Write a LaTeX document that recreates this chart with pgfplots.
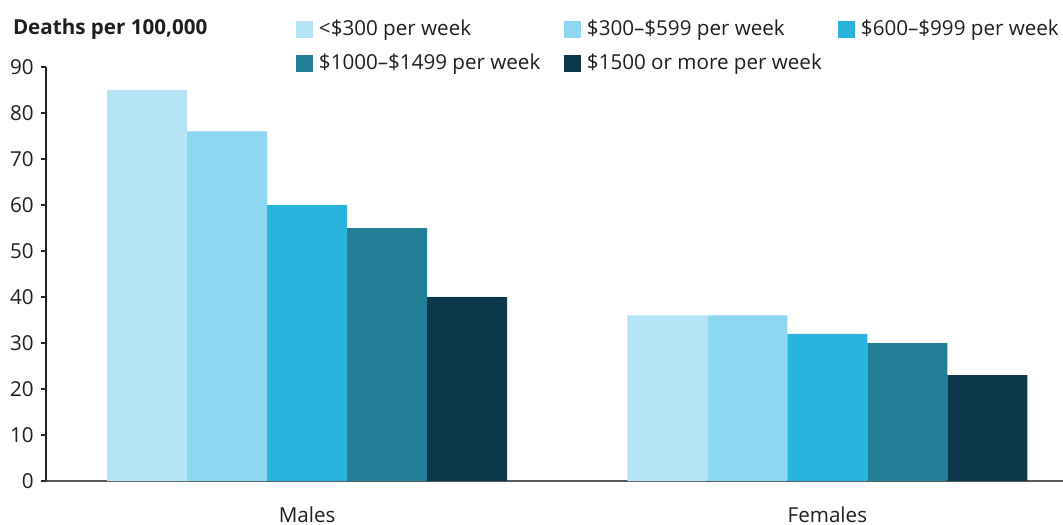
\documentclass[border=0pt]{standalone}
\usepackage{fontspec}
\setmainfont{Open Sans}
\usepackage{pgfplots}
\pgfplotsset{compat=1.18}

\definecolor{cA}{HTML}{B3E3F4}
\definecolor{cB}{HTML}{8DD7F0}
\definecolor{cC}{HTML}{28B4DC}
\definecolor{cD}{HTML}{237F98}
\definecolor{cE}{HTML}{0B384A}
\definecolor{txt}{HTML}{1E1E1E}

\pgfplotsset{
  sq/.style={legend image code/.code={\fill[##1] (0pt,-4.25pt) rectangle (8.5pt,4.25pt);}},
}

\begin{document}
\fontsize{10.3}{12.4}\selectfont
\begin{tikzpicture}
\useasboundingbox (0,0) rectangle (531.5pt,262pt);
\node[anchor=base west, inner sep=0pt, font=\bfseries, text=txt] at (6.3pt,244.5pt) {Deaths per 100,000};
\begin{axis}[
    at={(23pt,21.5pt)}, anchor=south west,
    scale only axis,
    width=508.5pt, height=207pt,
    ybar=0pt, bar width=40pt,
    xmin=-0.5019, xmax=1.4529,
    ymin=0, ymax=90,
    xtick={0,1}, xticklabels={Males,Females},
    ytick={0,10,...,90},
    axis x line*=bottom, axis y line*=left,
    x axis line style={color=black!65, line width=1pt, -},
    y axis line style={color=black!85, line width=0.6pt, -},
    xtick style={draw=none},
    ytick style={color=black!85, line width=0.6pt},
    tick align=outside,
    major tick length=2.5pt,
    /pgf/number format/assume math mode=true,
    tick label style={text=txt},
    xticklabel style={anchor=base, yshift=-18pt},
    legend columns=3,
    legend cell align=left,
    legend style={draw=none, fill=none, at={(axis description cs:0.2458,1.1159)},
      anchor=north west, inner sep=0pt, outer sep=0pt,
      row sep=7pt, column sep=0pt,
      nodes={inner xsep=3pt, inner ysep=0pt, text height=8pt, text depth=2pt, text=txt}},
]
\addplot[fill=cA, draw=none, sq] coordinates {(0,85) (1,36)};
\addplot[fill=cB, draw=none, sq] coordinates {(0,76) (1,36)};
\addplot[fill=cC, draw=none, sq] coordinates {(0,60) (1,32)};
\addplot[fill=cD, draw=none, sq] coordinates {(0,55) (1,30)};
\addplot[fill=cE, draw=none, sq] coordinates {(0,40) (1,23)};
\legend{\makebox[119.5pt][l]{<\$300 per week},
        \makebox[122.5pt][l]{\$300–\$599 per week},
        \$600–\$999 per week,
        \makebox[119.5pt][l]{\$1000–\$1499 per week},
        \makebox[122.5pt][l]{\$1500 or more per week}}
\end{axis}
\end{tikzpicture}
\end{document}
